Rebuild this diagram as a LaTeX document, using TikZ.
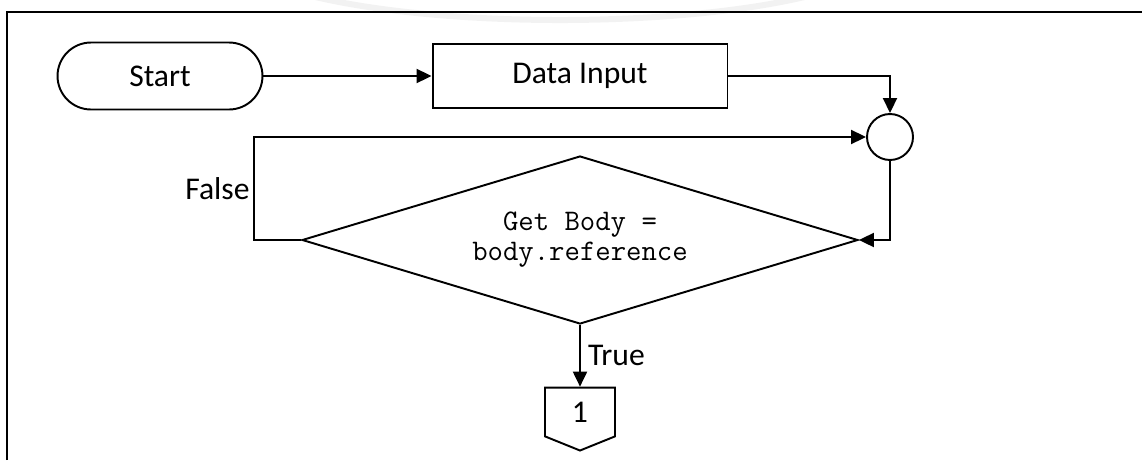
\documentclass[tikz,border=0pt]{standalone}
\usepackage{fontspec}
\setmainfont{Carlito}
\usetikzlibrary{arrows.meta, positioning, shapes.geometric, shapes.symbols}
\def\px{0.02cm}

\begin{document}
\begin{tikzpicture}[x=\px, y=-\px, line width=1.1pt, >={Triangle[length=0.3cm, width=0.28cm]}, font=\fontsize{18}{21}\selectfont]
    \tikzstyle{terminal}=[draw, rounded corners=0.67cm, minimum width=4.1cm, minimum height=1.34cm]
    \tikzstyle{process}=[draw, minimum width=5.9cm, minimum height=1.28cm]
    \tikzstyle{junction}=[draw, circle, minimum size=0.92cm, inner sep=0pt]
    \tikzstyle{decision}=[draw, diamond, aspect=3.3, minimum width=11.12cm, minimum height=3.36cm, inner sep=0pt, align=center, font=\ttfamily\fontsize{17}{17}\selectfont]
    \tikzstyle{offpage}=[draw, signal, signal to=south, signal from=nowhere, signal pointer angle=136, minimum width=1.4cm, minimum height=1.04cm, inner sep=0pt]
    \tikzstyle{flow}=[->]

    \useasboundingbox (0,0) rectangle (1142,460);

    % Faint mark behind the frame
    \draw[gray!10, line width=0.12cm] (560,-50) ++(160:330 and 70) arc (160:20:330 and 70);

    % Draw the frame
    \draw[line width=1.7pt] (7,460) -- (7,12) -- (1142,12);

    % Draw the flowchart nodes
    \node[terminal] (start) at (160,76) {Start};
    \node[process] (input) at (580,76) {Data Input};
    \node[junction] (join) at (890,137) {};
    \node[decision] (check) at (580,240) {Get Body =\\body.reference};
    \node[offpage] (conn) at (580,412) {1};

    % Connect the nodes
    \draw[flow] (start) -- (input);
    \draw[flow] (input.east) -| (join.north);
    \draw[flow] (join.south) |- (check.east);

    % Loop back when the check fails
    \coordinate (fbend) at (254,240);
    \draw[flow] (check.west) -- (fbend) |- node[pos=0.25, left, inner sep=2pt] {False} (join.west);

    \draw[flow] (check.south) -- node[right, inner sep=4pt] {True} (conn.north);
\end{tikzpicture}
\end{document}
